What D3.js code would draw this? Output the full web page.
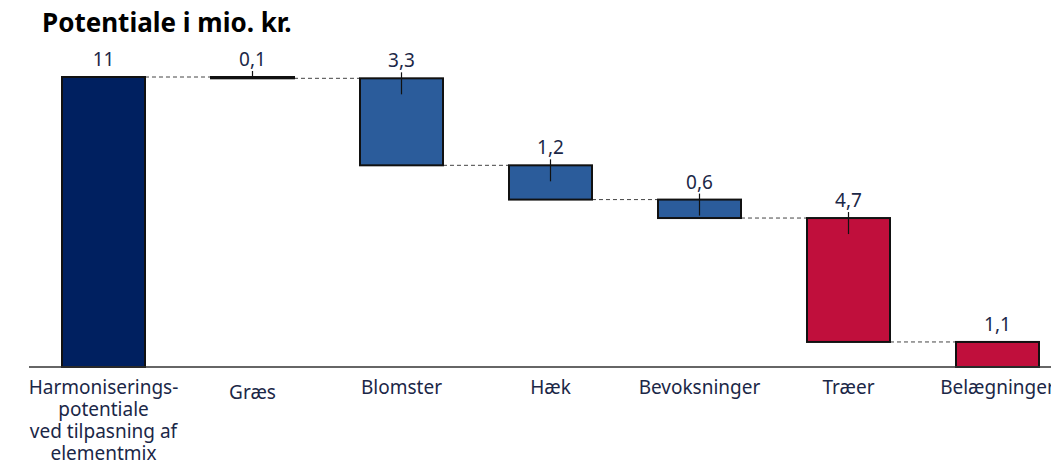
<!DOCTYPE html>
<html>
<head>
<meta charset="utf-8">
<script src="https://cdn.jsdelivr.net/npm/d3@7"></script>
<style>
  body { margin: 0; background: #fff; }
  svg { display: block; font-family: "Noto Sans", "Open Sans", sans-serif; }
</style>
</head>
<body>
<div id="chart"></div>
<script>
// waterfall data
var categories = ["Harmoniserings-potentiale", "Græs", "Blomster", "Hæk", "Bevoksninger", "Træer", "Belægninger"];
var categoryLines = [
    ["Harmoniserings-", "potentiale", "ved tilpasning af", "elementmix"],
    ["Græs"], ["Blomster"], ["Hæk"], ["Bevoksninger"], ["Træer"], ["Belægninger"]
];
var values = [11, 0.05, 3.3, 1.3, 0.7, 4.7, 0.95];
var valueLabels = ["11", "0,1", "3,3", "1,2", "0,6", "4,7", "1,1"];
var barColors = ["#002060", "#2B5C9B", "#2B5C9B", "#2B5C9B", "#2B5C9B", "#C00F3C", "#C00F3C"];
var showTick = [false, true, true, true, true, true, false];

var width = 1051, height = 475;
var baseY = 367, topY = 77;

var svg = d3.select("#chart").append("svg")
    .attr("width", width)
    .attr("height", height);

var x = d3.scaleBand()
    .domain(categories)
    .range([29, 29 + 7 * 149])
    .paddingInner(0.443)
    .paddingOuter(0.2215);

var y = d3.scaleLinear()
    .domain([0, 11])
    .range([baseY, topY]);

// build bar extents: first is total, rest decrease from running level
var bars = [];
var level = values[0];
bars.push({ cat: categories[0], hi: values[0], lo: 0, i: 0 });
for (var i = 1; i < values.length; i++) {
    bars.push({ cat: categories[i], hi: level, lo: level - values[i], i: i });
    level -= values[i];
}

// connectors
for (var i = 0; i < bars.length - 1; i++) {
    var lv = i == 0 ? bars[i].hi : bars[i].lo;
    svg.append("line")
        .attr("x1", x(bars[i].cat) + x.bandwidth())
        .attr("x2", x(bars[i + 1].cat))
        .attr("y1", y(lv))
        .attr("y2", y(lv))
        .attr("stroke", "#444")
        .attr("stroke-width", 1)
        .attr("stroke-dasharray", "4,3");
}

// bars
svg.selectAll(".bar")
    .data(bars)
    .enter()
    .append("rect")
    .attr("class", "bar")
    .attr("x", function (d) { return x(d.cat); })
    .attr("width", x.bandwidth())
    .attr("y", function (d) { return y(d.hi); })
    .attr("height", function (d) { return Math.max(0.5, y(d.lo) - y(d.hi)); })
    .attr("fill", function (d) { return barColors[d.i]; })
    .attr("stroke", "#111")
    .attr("stroke-width", 2);

// small ticks from the label into the bar
svg.selectAll(".tick-mark")
    .data(bars.filter(function (d) { return showTick[d.i]; }))
    .enter()
    .append("line")
    .attr("x1", function (d) { return x(d.cat) + x.bandwidth() / 2; })
    .attr("x2", function (d) { return x(d.cat) + x.bandwidth() / 2; })
    .attr("y1", function (d) { return y(d.hi) - 6; })
    .attr("y2", function (d) { return d.i == 1 ? y(d.hi) : y(d.hi) + 16; })
    .attr("stroke", "#111")
    .attr("stroke-width", 1.2);

// value labels
svg.selectAll(".val")
    .data(bars)
    .enter()
    .append("text")
    .attr("class", "val")
    .attr("x", function (d) { return x(d.cat) + x.bandwidth() / 2; })
    .attr("y", function (d) { return y(d.hi) - 11; })
    .attr("text-anchor", "middle")
    .attr("font-size", 19)
    .attr("fill", "#1B2747")
    .text(function (d) { return valueLabels[d.i]; });

// axis line
svg.append("line")
    .attr("x1", 29).attr("x2", width)
    .attr("y1", baseY).attr("y2", baseY)
    .attr("stroke", "#333")
    .attr("stroke-width", 1.5);

// category labels
var catG = svg.selectAll(".cat")
    .data(categories)
    .enter()
    .append("text")
    .attr("class", "cat")
    .attr("x", function (d) { return x(d) + x.bandwidth() / 2; })
    .attr("y", function (d, i) { return i == 1 ? 399 : 394; })
    .attr("text-anchor", "middle")
    .attr("font-size", 19)
    .attr("fill", "#1B2747");

catG.each(function (d, i) {
    var t = d3.select(this);
    categoryLines[i].forEach(function (ln, k) {
        t.append("tspan")
            .attr("x", x(d) + x.bandwidth() / 2)
            .attr("dy", k == 0 ? 0 : 22)
            .text(ln);
    });
});

// title
svg.append("text")
    .attr("x", 42)
    .attr("y", 32)
    .attr("font-size", 26)
    .attr("font-weight", "bold")
    .attr("fill", "#000")
    .text("Potentiale i mio. kr.");
</script>
</body>
</html>
